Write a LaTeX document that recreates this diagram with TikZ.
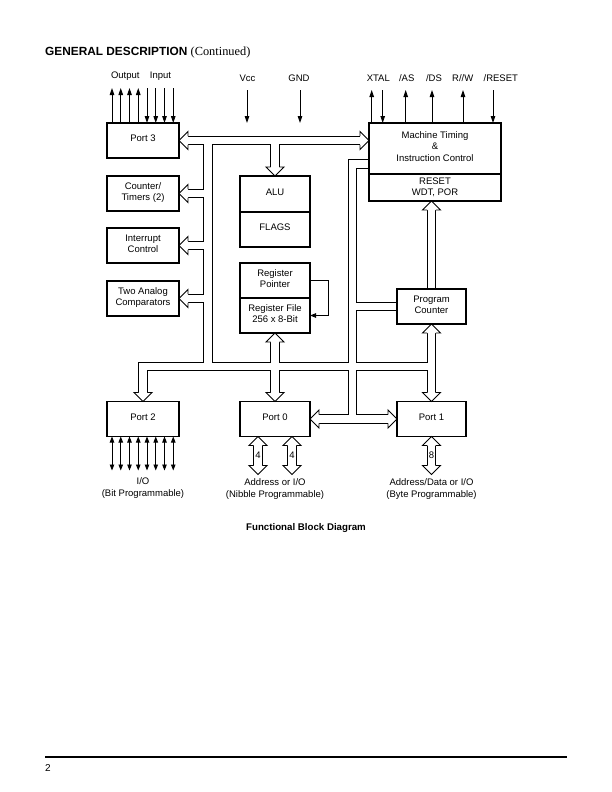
\documentclass[tikz,border=0pt]{standalone}
\usepackage{fontspec}
\setmainfont{Liberation Sans}
\newfontfamily\serifont{Liberation Serif}
\usetikzlibrary{calc,arrows.meta}
\pgfdeclarelayer{bgzero}
\pgfdeclarelayer{background}
\pgfsetlayers{bgzero,background,main}
\newcommand\dfont{\fontsize{9.5}{11.5}\selectfont}
\newcommand\bushead[2]{\begin{scope}[shift={(#1)},rotate=#2]\filldraw[headst] (-9,4.4) -- (-9,9) -- (0,0) -- (-9,-9) -- (-9,-4.4);\end{scope}}
\begin{document}
\begin{tikzpicture}[x=1pt,y=-1pt,
  boxbase/.style={draw, line width=1.5pt, inner sep=0pt, outer sep=0pt, align=center, font=\dfont},
  box/.style={boxbase, text depth=4pt},
  headst/.style={fill=white, draw=black, line width=0.9pt, line join=miter},
  busst/.style={draw=white, line width=7.9pt, line join=miter,
     preaction={draw=black, line width=9.7pt, line join=miter}},
  pin/.style={line width=0.9pt, -{Triangle[length=7pt,width=4.5pt]}},
  pindn/.style={line width=0.9pt, {Triangle[length=7pt,width=4.5pt]}-},
  pinbi/.style={line width=0.9pt, {Triangle[length=6pt,width=4.5pt]}-{Triangle[length=6pt,width=4.5pt]}},
  lbl/.style={font=\dfont, inner sep=0pt, align=center}]
\useasboundingbox (0,0) rectangle (612,792);
\begin{pgfonlayer}{bgzero}\fill[white] (0,0) rectangle (612,792);\end{pgfonlayer}

% title
\node[anchor=base west, inner sep=0pt] (title) at (45,56)
  {\fontsize{11.85}{14}\selectfont\bfseries GENERAL DESCRIPTION \serifont\mdseries\fontsize{12.35}{14}\selectfont(Continued)};

% boxes
\node[box, minimum width=72pt, minimum height=35pt] (p3) at (143,140.5) {Port 3};
\node[box, minimum width=72pt, minimum height=35pt] (ct) at (143,193.5) {Counter/\\Timers (2)};
\node[box, minimum width=72pt, minimum height=35pt] (ic) at (143,245.5) {Interrupt\\Control};
\node[box, minimum width=72pt, minimum height=35pt] (ac) at (143,298.5) {Two Analog\\Comparators};
\node[box, minimum width=70pt, minimum height=36pt] (alu) at (275,194) {ALU};
\node[box, minimum width=70pt, minimum height=35pt] (flags) at (275,229.5) {FLAGS};
\node[box, minimum width=70pt, minimum height=35pt] (rp) at (275,280.5) {Register\\Pointer};
\node[box, minimum width=70pt, minimum height=35pt] (rf) at (275,315.5) {Register File\\256 x 8-Bit};
\node[box, minimum width=132pt, minimum height=51pt] (mt) at (435,148.5) {Machine Timing\\\&\\Instruction Control};
\node[boxbase, minimum width=132pt, minimum height=27pt] (rs) at (435,187.5) {RESET\\WDT, POR};
\node[box, minimum width=69pt, minimum height=35pt] (pc) at (431.5,306.5) {Program\\Counter};
\node[box, minimum width=72pt, minimum height=35pt] (p2) at (143,419) {Port 2};
\node[box, minimum width=70pt, minimum height=35pt] (p0) at (275,419) {Port 0};
\node[box, minimum width=69pt, minimum height=35pt] (p1) at (431.5,419) {Port 1};

% top labels
\node[lbl] (lout) at (125.3,76.5) {Output};
\node[lbl] (lin) at (160.5,76.5) {Input};
\node[lbl] (lvcc) at (247.5,78) {Vcc};
\node[lbl] (lgnd) at (299,78) {GND};
\node[lbl] (lxtal) at (378.3,78) {XTAL};
\node[lbl] (las) at (406.7,78) {/AS};
\node[lbl] (lds) at (434,78) {/DS};
\node[lbl] (lrw) at (462.7,78) {R//W};
\node[lbl] (lrst) at (500.8,78) {/RESET};

% pins of port 3
\foreach \i in {0,...,3} \draw[pin] ([xshift={5pt+8.75pt*\i}]p3.north west) -- ++(0,-35);
\foreach \i in {4,...,7} \draw[pindn] ([xshift={5pt+8.75pt*\i}]p3.north west) -- ++(0,-35);
% power
\coordinate (vccA) at (247,90); \coordinate (vccB) at (247,123);
\coordinate (gndA) at (300,90); \coordinate (gndB) at (300,123);
\draw[pin] (vccA) -- (vccB);
\draw[pin] (gndA) -- (gndB);
% control pins
\draw[pin] ([xshift=2.7pt]mt.north west) -- ++(0,-33);
\draw[pindn] ([xshift=13.7pt]mt.north west) -- ++(0,-33);
\draw[pin] ([xshift=36.7pt]mt.north west) -- ++(0,-33);
\draw[pin] ([xshift=63pt]mt.north west) -- ++(0,-33);
\draw[pin] ([xshift=94pt]mt.north west) -- ++(0,-33);
\draw[pindn] ([xshift=124pt]mt.north west) -- ++(0,-33);
% port 2 pins
\foreach \i in {0,...,7} \draw[pinbi] ([xshift={5pt+8.75pt*\i}]p2.south west) -- ++(0,34);

% register pointer feedback
\draw[line width=0.9pt, -{Triangle[length=6pt,width=4.5pt]}] (rp.east) -- ++(18,0) |- (rf.east);

% bus coordinates
\coordinate (LVt) at (208,140.5);
\coordinate (LVb) at (208,366.5);
\coordinate (BBl) at (143,366.5);
\coordinate (BBr) at (pc.south |- BBl);
\coordinate (RVt) at (352.5,163.7);
\coordinate (RVb) at (352.5,419);

\begin{pgfonlayer}{background}
\path[busst]
 ($(p3.east)+(8.5,0)$) -- ($(mt.west|-p3.east)+(-8.5,0)$)
 (alu.north|-p3.east) -- ($(alu.north)+(0,-8.5)$)
 (LVt) -- (LVb)
 (LVt|-ct.east) -- ($(ct.east)+(8.5,0)$)
 (LVt|-ic.east) -- ($(ic.east)+(8.5,0)$)
 (LVt|-ac.east) -- ($(ac.east)+(8.5,0)$)
 ($(p2.north)+(0,-8.5)$) -- (BBl) -- (BBr)
 ($(rf.south)+(0,8.5)$) -- ($(p0.north)+(0,-8.5)$)
 (mt.west|-RVt) -- (RVt) -- (RVb)
 (RVt|-pc.west) -- (pc.west)
 ($(p0.east)+(8.5,0)$) -- ($(p1.west)+(-8.5,0)$)
 ($(rs.south-|pc.north)+(0,8.5)$) -- (pc.north)
 ($(pc.south)+(0,8.5)$) -- ($(p1.north)+(0,-8.5)$)
 ($(p0.south)+(-17,8.5)$) -- ($(p0.south)+(-17,29.5)$)
 ($(p0.south)+(17,8.5)$) -- ($(p0.south)+(17,29.5)$)
 ($(p1.south)+(0,8.5)$) -- ($(p1.south)+(0,29.5)$);
\bushead{p3.east}{180}
\bushead{mt.west|-p3.east}{0}
\bushead{alu.north}{270}
\bushead{ct.east}{180}
\bushead{ic.east}{180}
\bushead{ac.east}{180}
\bushead{p2.north}{270}
\bushead{rf.south}{90}
\bushead{p0.north}{270}
\bushead{p0.east}{180}
\bushead{p1.west}{0}
\bushead{rs.south-|pc.north}{90}
\bushead{pc.south}{90}
\bushead{p1.north}{270}
\bushead{$(p0.south)+(-17,0)$}{90}
\bushead{$(p0.south)+(-17,38)$}{270}
\bushead{$(p0.south)+(17,0)$}{90}
\bushead{$(p0.south)+(17,38)$}{270}
\bushead{p1.south}{90}
\bushead{$(p1.south)+(0,38)$}{270}
\end{pgfonlayer}

% bus width labels
\node[lbl, font=\fontsize{9.5}{10}\selectfont] (w1) at ($(p0.south)+(-17,19)$) {4};
\node[lbl, font=\fontsize{9.5}{10}\selectfont] (w2) at ($(p0.south)+(17,19)$) {4};
\node[lbl, font=\fontsize{9.5}{10}\selectfont] (w3) at ($(p1.south)+(0,19)$) {8};

% bottom labels
\node[lbl] (b2) at (143,488) {I/O\\(Bit Programmable)};
\node[lbl] (b0) at (275,489) {Address or I/O\\(Nibble Programmable)};
\node[lbl] (b1) at (431.5,489) {Address/Data or I/O\\(Byte Programmable)};

% caption
\node[lbl, font=\fontsize{9.7}{11.5}\selectfont\bfseries] (cap) at (306,528) {Functional Block Diagram};

% footer
\coordinate (ruleL) at (45,756.5);
\coordinate (ruleR) at (567,756.5);
\draw[line width=2pt] (ruleL) -- (ruleR);
\node[anchor=base west, inner sep=0pt, font=\fontsize{10}{12}\selectfont] (pg) at (45,771) {2};
\end{tikzpicture}
\end{document}
